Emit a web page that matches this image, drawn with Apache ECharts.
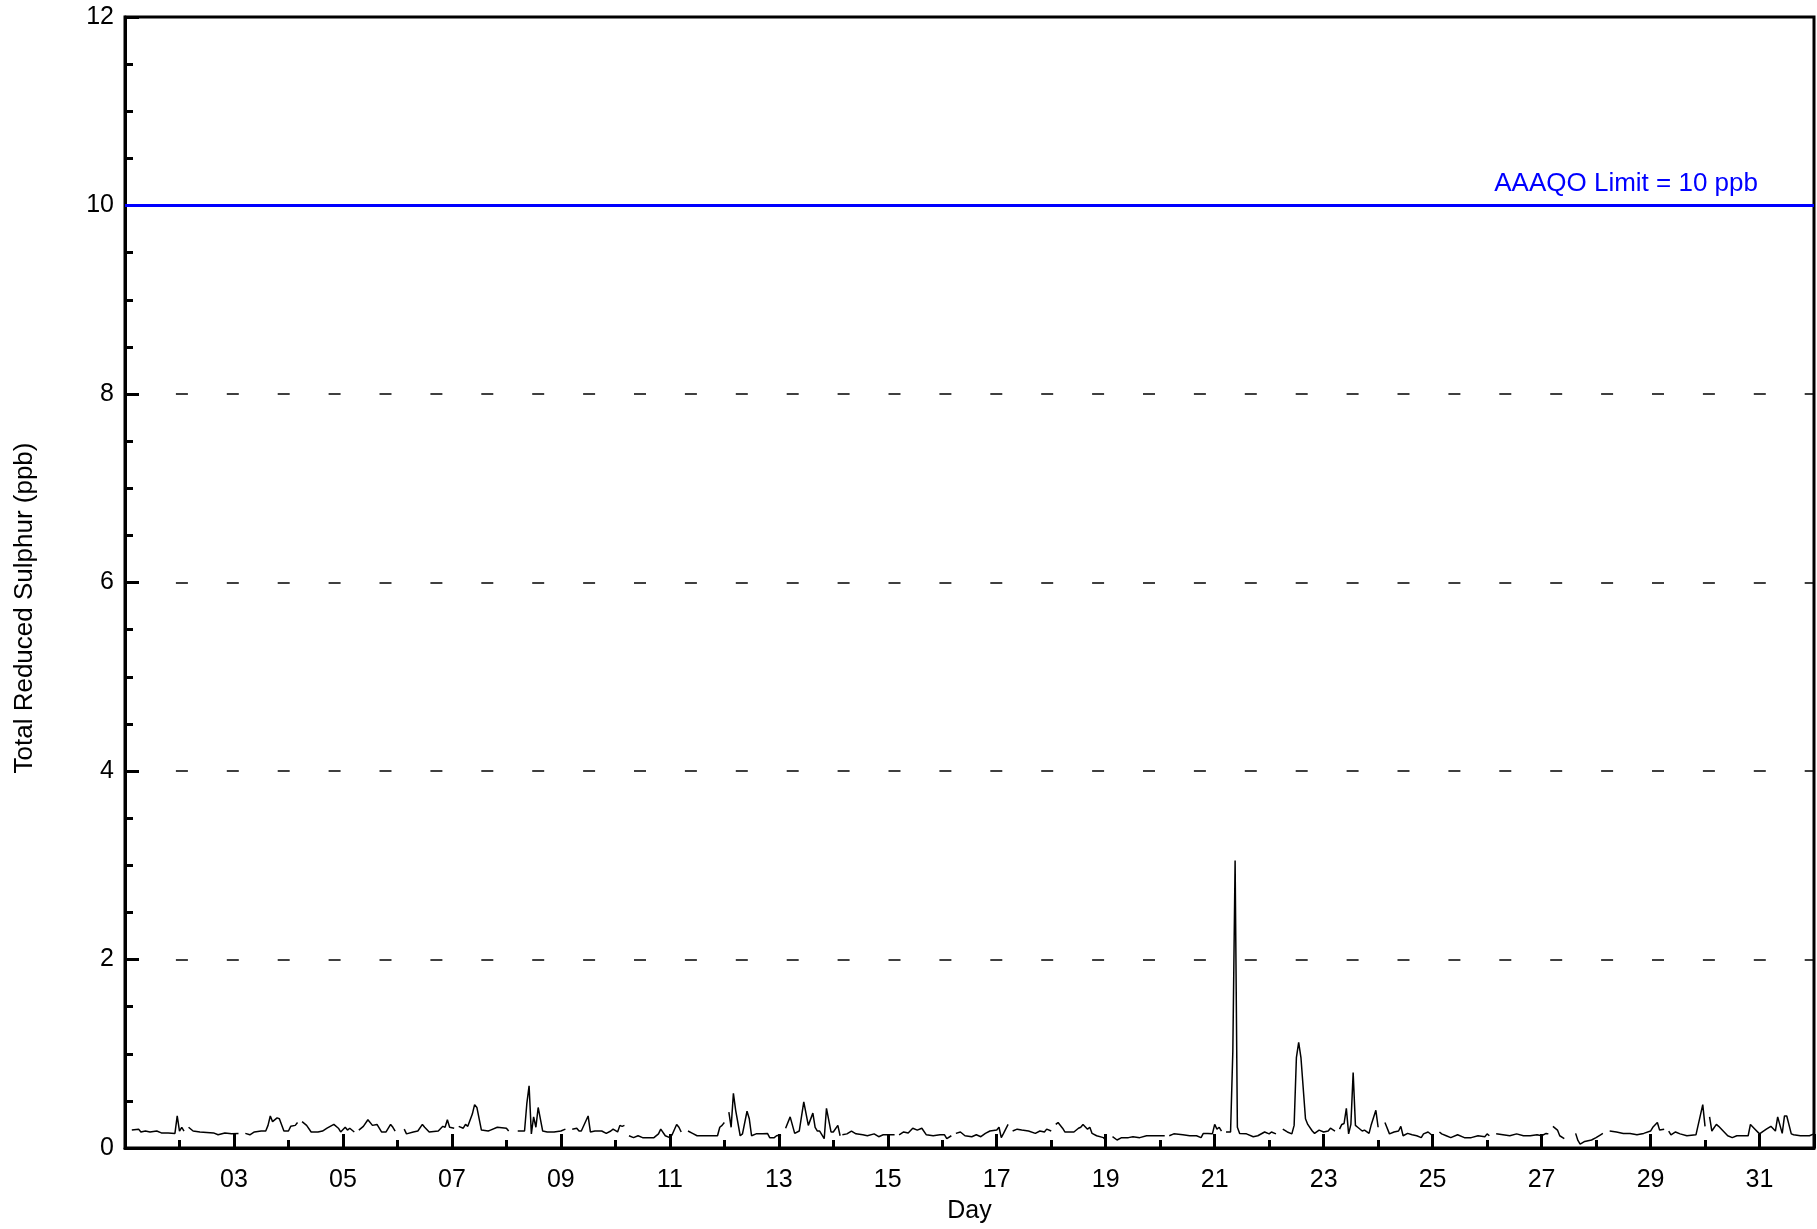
<!DOCTYPE html>
<html>
<head>
<meta charset="utf-8">
<script src="https://cdn.jsdelivr.net/npm/echarts@6/dist/echarts.min.js"></script>
<style>html,body{margin:0;padding:0;background:#fff;}#c{width:1817px;height:1229px;}</style>
</head>
<body>
<div id="c"></div>
<script>
// Hours since 00:00 of day 01; null value = gap in record
var hours = [
3,6,7,9,11,14,16,19,22,23,24,25,26, 27,
28,30,33,39,41,44,47,50, 51,
53,55,57,60,62,63,64,65,67,68,70,72,73,75,76, 77,
78,80,82,85,87,89,92,94,95,97,98,99,101, 102,
103,105,107,109,111,113,115,117,118,119, 121,
123,124,127,129,131,132,134,138,140,141,142,143,145, 146,
147,149,150,151,153,154,155,157,160,161,164,168,169, 171,
173,176,177,178,179,180,181,182,184,186,189,192,194, 195,
197,199,200,201,204,205,207,210,212,214,215,217,218,219,220, 221,
222,224,226,228,233,235,236,238,240,241,243,244,245, 246,
248,250,252,261,262,263,264, 265,
266,267,268,269,271,272,274,275,276,278,281,283,284,286,287,289, 290,
291,293,295,297,299,301,303,304,305,306,308,309,311,312,314,315, 315.5,
316,318,320,322,325,327,330,332,334,339, 340,
341,343,345,347,349,351,353,356,359,361,362,364, 365,
366,368,370,373,375,377,379,381,384,385,386,387,389, 390,
391,393,395,398,401,403,405,406,408, 409,
410,411,413,414,418,420,421,422,424,425,426,428,431,432, 434,
435,437,439,442,444,447,450,453,458, 459,
460,462,466,469,472,474,475,477,479,480,481,482,483, 484,
485,487,488,489,490,491,494,497,499,502,504,505,507, 508,
510,512,514,515,516,517,518,520,521,523,524,526,528,530,531,533, 534,
535,536,537,538,539,540,541,542,543,545,546,548,549,551,552, 553,
555,557,559,561,562,563,565,567,569,571,572,574,576, 577,
579,580,582,584,587,590,593,596,599,600,601, 602,
604,607,610,613,616,619,622,624,626,627, 628,
629,631,632,634, 636,
639,640,641,643,646,648,650,651, 652,
654,657,660,663,666,669,672,673,675,676,678, 679,
680,681,683,685,688,692,695,696, 697,
698,699,701,702,704,706,708,710,715,716,718,720,723,725,727,728,730,731,732,734,735,738,742,744
];
var trs = [
.19,.20,.17,.18,.17,.18,.16,.16,.155,.34,.18,.22,.18, null,
.22,.18,.17,.16,.14,.16,.15,.155, null,
.155,.14,.17,.18,.18,.24,.34,.28,.32,.31,.18,.18,.23,.24,.27, null,
.28,.24,.17,.17,.18,.21,.25,.21,.17,.22,.19,.21,.17, null,
.19,.23,.30,.24,.25,.17,.17,.25,.22,.18, null,
.20,.15,.17,.18,.25,.22,.17,.18,.23,.22,.30,.22,.21, null,
.23,.21,.25,.23,.36,.46,.43,.19,.18,.19,.22,.21,.18, null,
.18,.18,.47,.66,.15,.33,.22,.43,.18,.17,.17,.18,.20, null,
.20,.21,.18,.18,.34,.17,.18,.18,.155,.18,.20,.17,.24,.23,.24, null,
.13,.11,.13,.11,.11,.15,.20,.13,.11,.14,.25,.22,.17, null,
.18,.155,.13,.13,.22,.24,.27, null,
.38,.22,.58,.40,.13,.15,.39,.31,.13,.15,.15,.155,.11,.11,.13,.14, null,
.21,.33,.155,.18,.49,.24,.37,.22,.18,.18,.10,.42,.17,.17,.24,.13, null,
.14,.15,.18,.15,.14,.13,.15,.12,.14,.14, null,
.14,.17,.16,.21,.19,.21,.14,.13,.14,.14,.10,.13, null,
.155,.17,.13,.12,.14,.12,.155,.18,.19,.22,.11,.155,.25, null,
.18,.20,.19,.18,.155,.18,.17,.20,.18, null,
.25,.27,.21,.17,.17,.21,.22,.25,.20,.22,.155,.13,.11,.085, null,
.12,.085,.11,.11,.12,.11,.13,.13,.13, null,
.13,.15,.14,.13,.13,.11,.155,.155,.15,.25,.20,.22,.18, null,
.17,.17,1.03,3.05,.22,.155,.15,.12,.13,.17,.15,.17,.15, null,
.20,.17,.15,.24,.96,1.12,.96,.31,.25,.18,.155,.19,.17,.18,.21,.18, null,
.20,.25,.26,.42,.15,.25,.80,.24,.22,.18,.19,.155,.25,.40,.22, null,
.27,.15,.17,.18,.23,.13,.155,.14,.13,.11,.15,.17,.13, null,
.17,.15,.13,.11,.14,.11,.11,.13,.12,.15,.13, null,
.15,.14,.13,.15,.13,.13,.14,.13,.155,.15, null,
.23,.19,.13,.10, null,
.155,.08,.04,.07,.085,.11,.14,.155, null,
.18,.17,.155,.155,.14,.155,.18,.22,.27,.19,.20, null,
.18,.14,.17,.15,.13,.14,.46,.23, null,
.33,.18,.25,.23,.18,.13,.11,.13,.13,.25,.20,.15,.20,.23,.18,.33,.155,.34,.34,.15,.14,.13,.13,.15
];
var limitValue = 10;
var limitLabel = 'AAAQO Limit = 10 ppb';
var yTitle = 'Total Reduced Sulphur (ppb)';
var xTitle = 'Day';

var FONT = 'Liberation Sans, Arial, sans-serif';
var data = hours.map(function (h, i) { return [h, trs[i] === null ? '-' : trs[i]]; });

var chart = echarts.init(document.getElementById('c'), null, {renderer: 'canvas'});
chart.setOption({
  animation: false,
  backgroundColor: '#fff',
  grid: {left: 125, right: 3, top: 17, bottom: 78, containLabel: false,
         show: true, borderColor: '#000', borderWidth: 3, backgroundColor: 'transparent'},
  xAxis: [{
    type: 'value', min: 0, max: 744, interval: 48,
    name: xTitle, nameLocation: 'middle', nameGap: 51,
    nameTextStyle: {color: '#000', fontSize: 25, fontFamily: FONT},
    axisLine: {show: true, lineStyle: {color: '#000', width: 3}},
    axisTick: {show: true, inside: true, length: 14, lineStyle: {color: '#000', width: 3}},
    axisLabel: {show: true, margin: 20, color: '#000', fontSize: 25, fontFamily: FONT,
      formatter: function (v) {
        if (v === 0 || v % 48 !== 0) return '';
        var d = v / 24 + 1; return (d < 10 ? '0' : '') + d;
      }},
    splitLine: {show: false}
  }, {
    type: 'value', min: 0, max: 744, interval: 24, position: 'bottom',
    axisLine: {show: false},
    axisTick: {show: true, inside: true, length: 8, lineStyle: {color: '#000', width: 3}},
    axisLabel: {show: false},
    splitLine: {show: false}
  }],
  yAxis: {
    type: 'value', min: 0, max: 12, interval: 2,
    axisLine: {show: true, lineStyle: {color: '#000', width: 3}},
    axisTick: {show: true, inside: true, length: 14, lineStyle: {color: '#000', width: 3}},
    minorTick: {show: true, splitNumber: 4, length: 8, lineStyle: {color: '#000', width: 3}},
    axisLabel: {margin: 11, color: '#000', fontSize: 25, fontFamily: FONT},
    splitLine: {show: true, lineStyle: {color: '#000', width: 1.5, type: [12, 38.9]}}
  },
  graphic: [{
    type: 'text', x: 25, y: 608, rotation: Math.PI / 2,
    style: {text: yTitle, fill: '#000', fontSize: 26, fontFamily: FONT,
            textAlign: 'center', textVerticalAlign: 'middle'}
  }],
  series: [{
    type: 'line', xAxisIndex: 0, data: data, showSymbol: false, symbol: 'none',
    connectNulls: false,
    lineStyle: {color: '#000', width: 1.5},
    markLine: {
      silent: true, symbol: 'none',
      lineStyle: {color: '#0000ff', width: 3, type: 'solid'},
      label: {show: true, position: 'insideEndTop', formatter: limitLabel,
              color: '#0000ff', fontSize: 26, fontFamily: FONT, distance: 9,
              padding: [0, 47, 0, 0]},
      data: [{yAxis: limitValue}]
    }
  }]
});
</script>
</body>
</html>
